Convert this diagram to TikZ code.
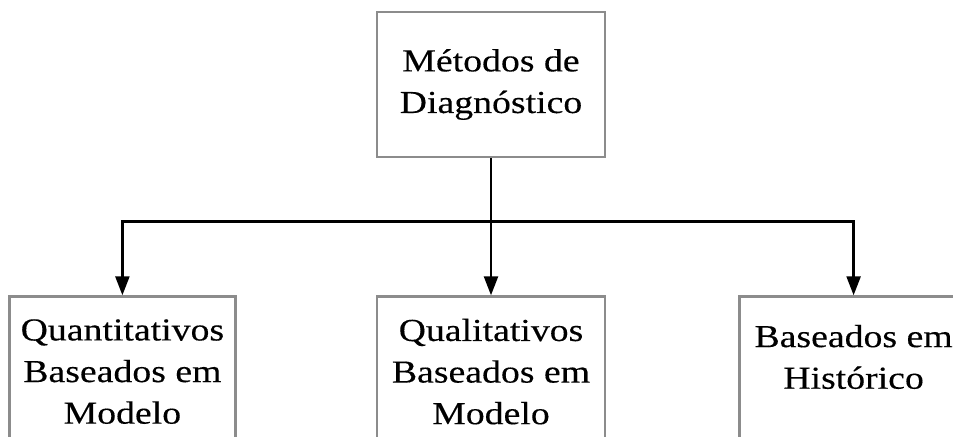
\documentclass[tikz,border=0pt]{standalone}
\usepackage{fontspec}
\setmainfont{Liberation Serif}[FakeStretch=1.18, FakeBold=0.3]
\usetikzlibrary{arrows.meta, positioning}

\begin{document}
\begin{tikzpicture}[
        x=0.5pt, y=0.5pt,
        node distance=68.5pt and 69.5pt, % spacing between boxes
        caixa/.style={draw=black!45, line width=1.3pt, minimum width=114pt, inner sep=0pt,
          align=center, font=\fontsize{16}{20.8}\selectfont},
        ->, % arrow style
        >={Triangle[length=9.5pt, width=7pt]}, % arrowhead style
        line width=1.2pt
      ]
      \clip (0,0) rectangle (953,436);

      % Boxes
      \node (metodos) [caixa, minimum height=72.5pt] at (491,351.5) {Métodos de\\Diagnóstico};
      \node (qualit) [caixa, minimum height=75pt, below=of metodos] {Qualitativos\\Baseados em\\Modelo};
      \node (quant) [caixa, minimum width=113pt, minimum height=75pt, left=of qualit] {Quantitativos\\Baseados em\\Modelo};
      \node (hist) [caixa, minimum height=75pt, right=66pt of qualit] {Baseados em\\Histórico\\[-6pt]};

      % Arrows
      \path (metodos.south) ++(0,-63) coordinate (ramo);
      \draw (metodos.south) -- (qualit.north);
      \draw (ramo) -| (quant.north);
      \draw (ramo) -| (hist.north);

    \end{tikzpicture}
\end{document}
